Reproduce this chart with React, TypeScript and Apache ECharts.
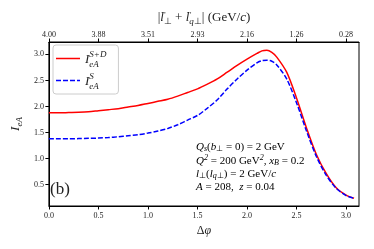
import React, { useEffect, useRef } from "react";
import * as echarts from "echarts";

const dphi = [0, 0.1, 0.2, 0.3, 0.4, 0.5, 0.6, 0.7, 0.8, 0.9, 1.0, 1.1, 1.2, 1.3, 1.4, 1.5, 1.6, 1.7, 1.8, 1.9, 2.0, 2.1, 2.15, 2.2, 2.25, 2.3, 2.4, 2.5, 2.6, 2.7, 2.8, 2.9, 3.0, 3.08];
const iSD = [1.87, 1.87, 1.875, 1.88, 1.89, 1.91, 1.93, 1.95, 1.98, 2.01, 2.05, 2.09, 2.13, 2.19, 2.26, 2.33, 2.42, 2.52, 2.65, 2.78, 2.9, 3.01, 3.06, 3.07, 3.03, 2.94, 2.65, 2.15, 1.58, 1.07, 0.7, 0.43, 0.29, 0.23];
const iS = [1.37, 1.37, 1.37, 1.375, 1.38, 1.385, 1.395, 1.41, 1.43, 1.45, 1.48, 1.52, 1.57, 1.64, 1.73, 1.82, 1.96, 2.12, 2.33, 2.52, 2.69, 2.83, 2.87, 2.88, 2.86, 2.79, 2.52, 2.06, 1.52, 1.03, 0.67, 0.42, 0.28, 0.23];
const xTicks = [0, 0.5, 1, 1.5, 2, 2.5, 3];
const topTickLabels = ["4.00", "3.88", "3.51", "2.93", "2.16", "1.26", "0.28"];
const yTicks = [0.5, 1, 1.5, 2, 2.5, 3];
const seriesNames = ["SD", "S"];
const legendLabels = ["{i|I}{subw|eA}{sup|S+D}", "{i|I}{subw|eA}{sup|S}"];
const annotations = [
  "{i|Q}{subi|s}{n|(}{i|b}{sub|⊥}{n| = 0) = 2 GeV}",
  "{i|Q}{sup|2}{n| = 200 GeV}{sup|2}{n|, }{i|x}{subi|B}{n| = 0.2}",
  "{i|l}{sub|⊥}{n|(}{i|l}{subi|q}{sub|⊥}{n|) = 2 GeV/}{i|c}",
  "{i|A}{n| = 208,  }{i|z}{n| = 0.04}",
];
const topTitle = "{n||}{i|l}{arr|→}{sub|⊥}{n| + }{i|l}{arr|→}{subi|q}{sub|⊥}{n|| (GeV/}{i|c}{n|)}";
const panelLabel = "(b)";

const F = "Liberation Serif";
const C = "#222";

// legend line icons (thin strip inside a 24x10 box)
const solidIcon = "path://M0,0h0.01v10h-0.01z M0,4.2h24v1.6h-24z";
const dashedIcon =
  "path://M0,0h0.01v10h-0.01z M0,4.2h5v1.6h-5z M7,4.2h5v1.6h-5z M14,4.2h5v1.6h-5z M21,4.2h3v1.6h-3z";

function richSet(size: number, extra = 4) {
  const small = Math.round(size * 0.7);
  const arrSize = Math.round(size * 0.5);
  return {
    n: { fontFamily: F, fontSize: size, lineHeight: size + extra, color: C },
    i: { fontFamily: F, fontSize: size, lineHeight: size + extra, color: C, fontStyle: "italic" },
    sub: { fontFamily: F, fontSize: small, lineHeight: small, color: C, verticalAlign: "bottom" },
    subi: { fontFamily: F, fontSize: small, lineHeight: small, color: C, verticalAlign: "bottom", fontStyle: "italic" },
    subw: { fontFamily: F, fontSize: small, lineHeight: small, color: C, verticalAlign: "bottom", fontStyle: "italic", width: 0.01 },
    sup: { fontFamily: F, fontSize: small, lineHeight: small, color: C, verticalAlign: "top", fontStyle: "italic" },
    arr: { fontFamily: F, fontSize: arrSize, lineHeight: arrSize, color: C, verticalAlign: "top", width: 0.01, align: "right" },
  };
}

export default function App() {
  const ref = useRef<HTMLDivElement>(null);
  useEffect(() => {
    if (!ref.current) return;
    const chart = echarts.init(ref.current, undefined, { renderer: "svg" });
    const tickLabel = { fontFamily: F, fontSize: 8, color: C };
    chart.setOption({
      animation: false,
      grid: { left: 46, right: 15, top: 42, bottom: 43, show: true, borderColor: "#000", borderWidth: 1, backgroundColor: "transparent" },
      legend: {
        orient: "vertical",
        left: 53,
        top: 45,
        data: [
          { name: seriesNames[0], icon: solidIcon },
          { name: seriesNames[1], icon: dashedIcon },
        ],
        formatter: (name: string) => legendLabels[seriesNames.indexOf(name)],
        itemWidth: 24,
        itemHeight: 10,
        itemGap: 3,
        padding: [4, 12, 4, 3],
        backgroundColor: "rgba(255,255,255,0.8)",
        borderColor: "#ccc",
        borderWidth: 1,
        borderRadius: 3,
        textStyle: { rich: richSet(13, 6) },
      },
      xAxis: [
        {
          type: "value",
          position: "bottom",
          min: 0,
          max: 3.13,
          name: "{n|Δ}{i|φ}",
          nameLocation: "middle",
          nameGap: 11,
          nameTextStyle: { rich: richSet(12) },
          axisLine: { show: true, onZero: false, lineStyle: { color: "#000", width: 1 } },
          axisTick: { show: true, inside: false, length: 3.5, customValues: xTicks, lineStyle: { color: "#000" } },
          axisLabel: { ...tickLabel, margin: 5, customValues: xTicks, formatter: (v: number) => v.toFixed(1) },
          splitLine: { show: false },
        },
        {
          type: "value",
          position: "top",
          min: 0,
          max: 3.13,
          name: topTitle,
          nameLocation: "middle",
          nameGap: 16,
          nameTextStyle: { rich: richSet(13) },
          axisLine: { show: true, onZero: false, lineStyle: { color: "#000", width: 1 } },
          axisTick: { show: true, inside: false, length: 3.5, customValues: xTicks, lineStyle: { color: "#000" } },
          axisLabel: {
            ...tickLabel,
            margin: 4,
            customValues: xTicks,
            formatter: (v: number) => topTickLabels[Math.round(v / 0.5)],
          },
          splitLine: { show: false },
        },
      ],
      yAxis: {
        type: "value",
        min: 0.08,
        max: 3.23,
        name: "{i|I}{subi|eA}",
        nameLocation: "middle",
        nameRotate: 90,
        nameGap: 24,
        nameTextStyle: { rich: richSet(13) },
        axisLine: { show: true, onZero: false, lineStyle: { color: "#000", width: 1 } },
        axisTick: { show: true, inside: false, length: 3.5, customValues: yTicks, lineStyle: { color: "#000" } },
        axisLabel: { ...tickLabel, margin: 5, customValues: yTicks, formatter: (v: number) => v.toFixed(1) },
        splitLine: { show: false },
      },
      series: [
        {
          name: seriesNames[0],
          type: "line",
          data: dphi.map((x, i) => [x, iSD[i]]),
          showSymbol: false,
          symbol: "none",
          smooth: 0.3,
          lineStyle: { color: "#ff0000", width: 1.5 },
          itemStyle: { color: "#ff0000" },
          z: 2,
        },
        {
          name: seriesNames[1],
          type: "line",
          data: dphi.map((x, i) => [x, iS[i]]),
          showSymbol: false,
          symbol: "none",
          smooth: 0.3,
          lineStyle: { color: "#0000ff", width: 1.5, type: [5, 2] },
          itemStyle: { color: "#0000ff" },
          z: 3,
        },
      ],
      graphic: [
        ...annotations.map((t, k) => ({
          type: "text",
          left: 196,
          top: 140 + k * 13.5,
          style: { text: t, rich: richSet(11, 2) },
          z: 10,
        })),
        {
          type: "text",
          left: 50,
          top: 180,
          style: { text: panelLabel, fontFamily: F, fontSize: 17, fill: C },
          z: 10,
        },
      ],
    });
    return () => chart.dispose();
  }, []);
  return <div ref={ref} style={{ position: "fixed", left: 0, top: 0, width: 374, height: 249 }} />;
}
